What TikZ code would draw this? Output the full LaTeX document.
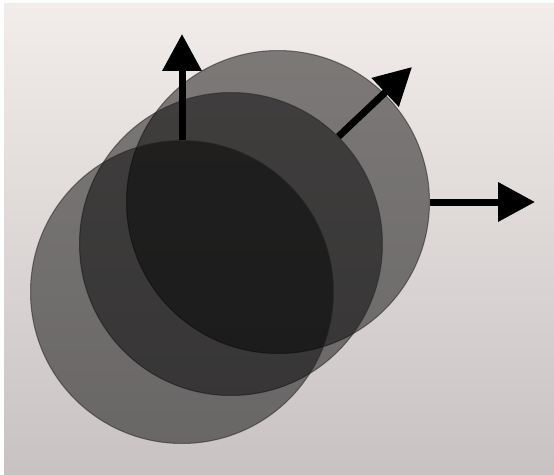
\documentclass[tikz,border=0pt]{standalone}
\usetikzlibrary{arrows.meta}
\definecolor{paper}{HTML}{F2EDEA}
\definecolor{papermid}{HTML}{EDE7E4}
\definecolor{paperlow}{HTML}{C8C2C3}
\tikzset{
  disc/.style={circle, minimum size=6.06cm, inner sep=0pt, fill=black,
    fill opacity=0.48, draw=black!85, draw opacity=0.55, line width=0.6pt},
  push/.style={line width=0.14cm, -{Triangle[length=0.74cm, width=0.76cm]}},
}

\begin{document}
\begin{tikzpicture}[x=0.02cm, y=-0.02cm]
  \fill[white] (0,0) rectangle (554,474);
  \shade[top color=paper, middle color=papermid, bottom color=paperlow] (4,3) rectangle (554,474);
  \node[disc] (d1) at (278,202) {};
  \node[disc] (d2) at (231,244) {};
  \node[disc] (d3) at (182,292) {};
  \coordinate (t1) at (535,202);
  \coordinate (t2) at (412,67);
  \coordinate (t3) at (182,34);
  \draw[push] (d1.east) -- (t1);
  \draw[push] (d2.north east) -- (t2);
  \draw[push] (d3.north) -- (t3);
\end{tikzpicture}
\end{document}
